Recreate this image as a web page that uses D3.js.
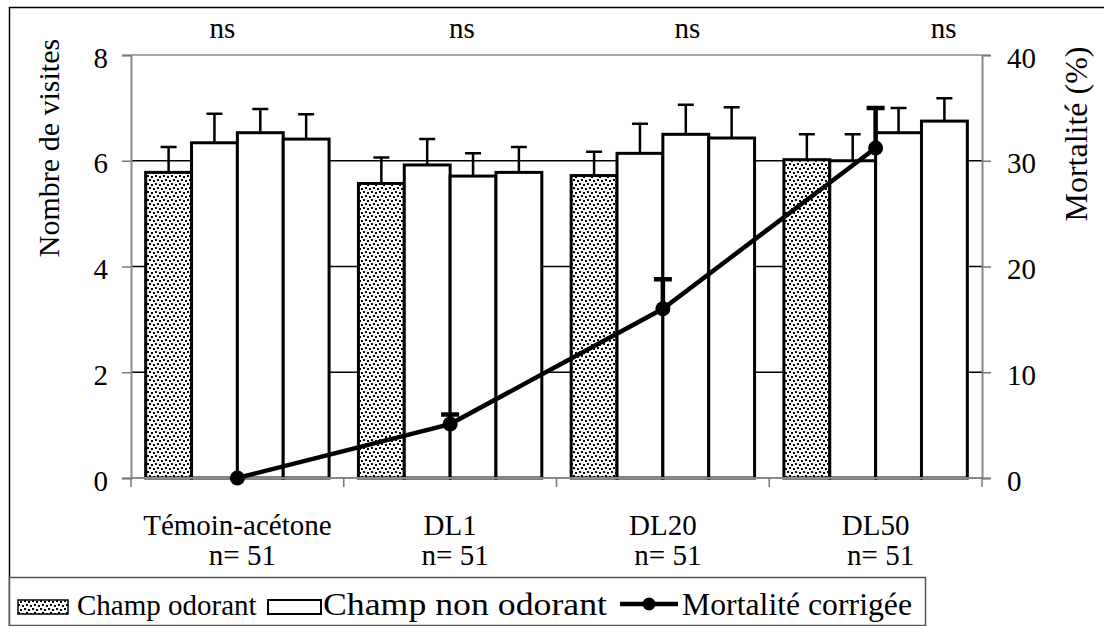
<!DOCTYPE html>
<meta charset="utf-8">
<style>
body { margin: 0; background: #fff; }
text { font-family: "Liberation Serif", serif; font-size: 29px; fill: #000; }
</style>
<svg width="1104" height="626"></svg>
<script src="https://d3js.org/d3.v7.min.js"></script>
<script>

// data
var groups = ["Témoin-acétone", "DL1", "DL20", "DL50"];
var sampleSizes = ["n= 51", "n= 51", "n= 51", "n= 51"];
var signif = ["ns", "ns", "ns", "ns"];
var odorant = [5.78, 5.57, 5.72, 6.02];
var odorantErr = [0.48, 0.49, 0.45, 0.48];
var nonOdorant = [[6.34, 6.53, 6.41], [5.92, 5.71, 5.78], [6.14, 6.50, 6.43], [6.00, 6.53, 6.75]];
var nonOdorantErr = [[0.55, 0.45, 0.47], [0.49, 0.43, 0.48], [0.56, 0.56, 0.58], [0.50, 0.47, 0.43]];
var mortality = [0, 5.1, 16.0, 31.2];
var mortalityErr = [0, 0.9, 2.8, 3.8];
var leftTicks = [0, 2, 4, 6, 8];
var rightTicks = [0, 10, 20, 30, 40];

var svg = d3.select("svg"),
    margin = {top: 55, right: 122, bottom: 148, left: 131},
    width = +svg.attr("width") - margin.left - margin.right,
    height = +svg.attr("height") - margin.top - margin.bottom;

var defs = svg.append("defs");
var pat = defs.append("pattern")
    .attr("id", "dots")
    .attr("patternUnits", "userSpaceOnUse")
    .attr("width", 8).attr("height", 8);
pat.append("rect").attr("width", 8).attr("height", 8).attr("fill", "#fff");
[[0, 0], [4, 1], [2, 4], [6, 5]].forEach(function(p) {
  pat.append("rect").attr("x", p[0]).attr("y", p[1]).attr("width", 2).attr("height", 2).attr("fill", "#000");
});

// outer frame
svg.append("rect")
    .attr("x", 9.5).attr("y", 7.5)
    .attr("width", 1200).attr("height", 1000)
    .attr("fill", "none").attr("stroke", "#000").attr("stroke-width", 1.5);

var x = d3.scaleBand().domain(groups).range([0, width]).padding(0),
    xi = d3.scaleBand().domain([0, 1, 2, 3]).range([0, x.bandwidth()]).paddingInner(0).paddingOuter(0.32),
    y = d3.scaleLinear().domain([0, 8]).range([height, 0]),
    y2 = d3.scaleLinear().domain([0, 40]).range([height, 0]);

var g = svg.append("g")
    .attr("transform", "translate(" + margin.left + "," + margin.top + ")");

// grid lines
g.selectAll(".grid")
  .data([2, 4, 6])
  .enter().append("line")
    .attr("x1", 0).attr("x2", width)
    .attr("y1", function(d) { return y(d); })
    .attr("y2", function(d) { return y(d); })
    .attr("stroke", "#000").attr("stroke-width", 1.3);

g.append("line")
    .attr("x1", 0).attr("x2", width)
    .attr("y1", y(8)).attr("y2", y(8))
    .attr("stroke", "#888").attr("stroke-width", 1.5);

// bars
var bars = [];
groups.forEach(function(grp, i) {
  bars.push({g: grp, k: 0, v: odorant[i], e: odorantErr[i]});
  nonOdorant[i].forEach(function(v, j) {
    bars.push({g: grp, k: j + 1, v: v, e: nonOdorantErr[i][j]});
  });
});

var bx = function(d) { return x(d.g) + xi(d.k); };
var bc = function(d) { return bx(d) + xi.bandwidth() / 2; };

g.selectAll(".err")
  .data(bars)
  .enter().append("path")
    .attr("d", function(d) {
      var c = bc(d), t = y(d.v + d.e);
      return "M" + c + "," + y(d.v) + "V" + t + "M" + (c - 8) + "," + t + "H" + (c + 8);
    })
    .attr("stroke", "#000").attr("stroke-width", 2.5).attr("fill", "none");

g.selectAll(".bar")
  .data(bars)
  .enter().append("rect")
    .attr("x", bx)
    .attr("y", function(d) { return y(d.v); })
    .attr("width", xi.bandwidth())
    .attr("height", function(d) { return height - y(d.v); })
    .attr("fill", function(d) { return d.k === 0 ? "url(#dots)" : "#fff"; })
    .attr("stroke", "#000").attr("stroke-width", 3);

// axes
var axL = g.append("g").call(d3.axisLeft(y).tickValues(leftTicks).tickSize(9).tickPadding(14).tickFormat(d3.format("d")));
var axR = g.append("g").attr("transform", "translate(" + width + ",0)")
    .call(d3.axisRight(y2).tickValues(rightTicks).tickSize(9).tickPadding(16).tickFormat(d3.format("d")));
var axB = g.append("g").attr("transform", "translate(0," + height + ")")
    .call(d3.axisBottom(x).tickSize(0).tickFormat(""));
[axL, axR, axB].forEach(function(a) {
  a.attr("font-family", null).attr("font-size", null);
  a.select(".domain").attr("stroke", "#888").attr("stroke-width", 2);
  a.selectAll(".tick line").attr("stroke", "#777").attr("stroke-width", 1.5);
  a.selectAll("text").attr("dy", "0.42em");
});
axB.select(".domain").attr("d", "M0,0H" + width);

// boundary ticks on x axis
g.selectAll(".xtick")
  .data(groups.concat(["end"]))
  .enter().append("line")
    .attr("x1", function(d, i) { return i * x.step(); })
    .attr("x2", function(d, i) { return i * x.step(); })
    .attr("y1", height).attr("y2", height + 9)
    .attr("stroke", "#777").attr("stroke-width", 1.5);

// category labels
g.selectAll(".cat")
  .data(groups)
  .enter().append("text")
    .attr("x", function(d) { return x(d) + x.bandwidth() / 2; })
    .attr("y", height + 57)
    .attr("text-anchor", "middle")
    .text(function(d) { return d; });

g.selectAll(".n")
  .data(sampleSizes)
  .enter().append("text")
    .attr("x", function(d, i) { return x(groups[i]) + x.bandwidth() / 2 + 5; })
    .attr("y", height + 87)
    .attr("text-anchor", "middle")
    .text(function(d) { return d; });

// ns labels
var nsPos = [0.43, 0.555, 0.615, 0.82];
g.selectAll(".ns")
  .data(signif)
  .enter().append("text")
    .attr("x", function(d, i) { return x(groups[i]) + nsPos[i] * x.bandwidth(); })
    .attr("y", -17)
    .attr("text-anchor", "middle")
    .text(function(d) { return d; });

// mortality line
var gc = function(i) { return x(groups[i]) + x.bandwidth() / 2; };

mortality.forEach(function(m, i) {
  if (!mortalityErr[i]) return;
  var t = y2(m + mortalityErr[i]);
  g.append("path")
      .attr("d", "M" + gc(i) + "," + y2(m) + "V" + t + "M" + (gc(i) - 9) + "," + t + "H" + (gc(i) + 9))
      .attr("stroke", "#000").attr("stroke-width", 4.5).attr("fill", "none");
});

g.append("path")
    .datum(mortality)
    .attr("d", d3.line().x(function(d, i) { return gc(i); }).y(function(d) { return y2(d); }))
    .attr("stroke", "#000").attr("stroke-width", 4.5).attr("fill", "none");

g.selectAll(".pt")
  .data(mortality)
  .enter().append("circle")
    .attr("cx", function(d, i) { return gc(i); })
    .attr("cy", function(d) { return y2(d); })
    .attr("r", 7.5)
    .attr("fill", "#000");

// axis titles
svg.append("text")
    .attr("transform", "translate(59,148) rotate(-90)")
    .attr("text-anchor", "middle")
    .style("font-size", "30px")
    .text("Nombre de visites");

svg.append("text")
    .attr("transform", "translate(1087,134) rotate(-90)")
    .attr("text-anchor", "middle")
    .style("font-size", "32px")
    .text("Mortalité (%)");

// legend
var lg = svg.append("g");
lg.append("rect")
    .attr("x", 9.5).attr("y", 577.5).attr("width", 916).attr("height", 48)
    .attr("fill", "#fff").attr("stroke", "#555").attr("stroke-width", 1.5);
lg.append("rect").attr("x", 18).attr("y", 600).attr("width", 50).attr("height", 14)
    .attr("fill", "url(#dots)").attr("stroke", "#000").attr("stroke-width", 1.5);
lg.append("text").attr("x", 77).attr("y", 615).text("Champ odorant");
lg.append("rect").attr("x", 268).attr("y", 600).attr("width", 53).attr("height", 14)
    .attr("fill", "#fff").attr("stroke", "#000").attr("stroke-width", 2);
lg.append("text").attr("x", 323).attr("y", 615)
    .style("font-size", "31px")
    .attr("textLength", 284).attr("lengthAdjust", "spacingAndGlyphs")
    .text("Champ non odorant");
lg.append("line").attr("x1", 620).attr("x2", 678).attr("y1", 604).attr("y2", 604)
    .attr("stroke", "#000").attr("stroke-width", 4.5);
lg.append("circle").attr("cx", 649).attr("cy", 604).attr("r", 6.5).attr("fill", "#000");
lg.append("text").attr("x", 682).attr("y", 615)
    .style("font-size", "31px")
    .attr("textLength", 230).attr("lengthAdjust", "spacingAndGlyphs")
    .text("Mortalité corrigée");

</script>
